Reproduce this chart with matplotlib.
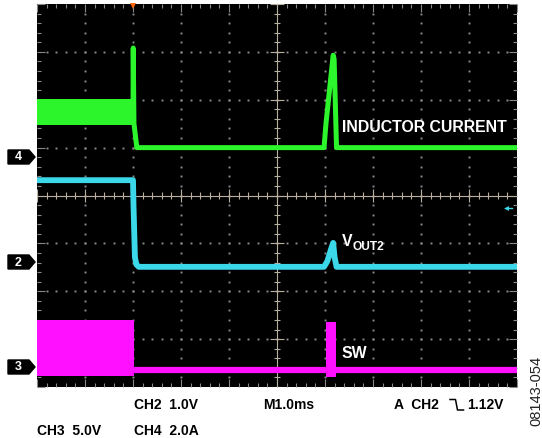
import numpy as np
import matplotlib.pyplot as plt
from matplotlib.patches import Polygon

plt.rcParams['font.family'] = ['Liberation Sans', 'DejaVu Sans']

W, H = 542, 438

# horizontal: 1.0 ms/div, trigger 2 div from the left
t_min, t_max = -2.0, 8.0

# channel scale (units/div) and ground marker position (div from bottom)
ch4_scale, ch4_gnd = 2.0, 4.80   # inductor current, A
ch2_scale, ch2_gnd = 1.0, 2.61   # VOUT2, V
ch3_scale, ch3_gnd = 5.0, 0.42   # SW, V

# CH4 inductor current (A): switching band before shutdown, then trace
il_band_t = [-2.0, 0.02]
il_band_lo = [1.34, 1.34]
il_band_hi = [2.42, 2.42]
il_t = [0.0, 0.005, 0.02, 0.08, 3.98, 4.02, 4.17, 4.19, 4.24, 8.0]
il_a = [1.6, 4.56, 1.4, 0.4, 0.4, 1.4, 4.26, 4.1, 0.4, 0.4]

# CH2 VOUT2 (V)
vo_t = [-2.0, 0.0, 0.01, 0.04, 0.07, 0.12, 3.98, 4.05, 4.12, 4.17, 4.2, 4.24, 8.0]
vo_v = [1.71, 1.71, 1.2, 0.1, -0.05, -0.1, -0.1, 0.02, 0.25, 0.40, 0.1, -0.1, -0.1]

# CH3 SW (V): switching band, idle level, single burst
sw_band_t = [-2.0, 0.02]
sw_band_lo = [-0.95, -0.95]
sw_band_hi = [4.9, 4.9]
sw_t = [0.02, 8.0]
sw_v = [-0.32, -0.32]
sw_burst_t = [4.02, 4.23]
sw_burst_lo = [-1.1, -1.1]
sw_burst_hi = [4.7, 4.7]

trig_level = 1.12  # V on CH2

green = '#2cf52c'
cyan = '#3ad8e8'
magenta = '#ff10ff'
grid_c = '#8a8a8a'
cross_c = '#b8b0a0'


def div(v, scale, gnd):
    return gnd + np.asarray(v, dtype=float) / scale


fig = plt.figure(figsize=(W / 100, H / 100), dpi=100)
ax = fig.add_axes([37 / W, (H - 387) / H, 480 / W, 383 / H])
ax.set_facecolor('black')
ax.set_xlim(t_min, t_max)
ax.set_ylim(0, 8)
for s in ax.spines.values():
    s.set_visible(False)

# graticule
ax.set_xticks(np.arange(t_min, t_max + 0.01, 1.0))
ax.set_xticks(np.arange(t_min, t_max + 0.01, 0.2), minor=True)
ax.set_yticks(np.arange(0, 8.01, 1.0))
ax.set_yticks(np.arange(0, 8.01, 0.2), minor=True)
ax.tick_params(which='both', direction='in', top=True, right=True,
               labelbottom=False, labelleft=False, color=grid_c, width=0.8)
ax.tick_params(which='major', length=6)
ax.tick_params(which='minor', length=3)

ydots = np.arange(0.2, 8.0, 0.2)
xdots = np.arange(t_min + 0.2, t_max, 0.2)
for xg in np.arange(t_min + 1, t_max, 1.0):
    if abs(xg - 3.0) > 1e-6:
        ax.plot([xg] * len(ydots), ydots, ls='none', marker='s', ms=1.4,
                mew=0, color=grid_c)
for yg in range(1, 8):
    if yg != 4:
        ax.plot(xdots, [yg] * len(xdots), ls='none', marker='s', ms=1.4,
                mew=0, color=grid_c)

ax.axhline(4, color=cross_c, lw=0.8)
ax.axvline(3, color=cross_c, lw=0.8)
xt = np.arange(t_min, t_max + 0.01, 0.2)
ax.vlines(xt, 4 - 0.07, 4 + 0.07, color=cross_c, lw=0.8)
ax.vlines(np.arange(t_min, t_max + 0.01, 1.0), 4 - 0.14, 4 + 0.14, color=cross_c, lw=0.8)
yt = np.arange(0, 8.01, 0.2)
ax.hlines(yt, 3 - 0.07, 3 + 0.07, color=cross_c, lw=0.8)
ax.hlines(np.arange(0, 8.01, 1.0), 3 - 0.14, 3 + 0.14, color=cross_c, lw=0.8)

# traces
ax.fill_between(il_band_t, div(il_band_lo, ch4_scale, ch4_gnd),
                div(il_band_hi, ch4_scale, ch4_gnd), color=green, lw=0, zorder=3)
ax.plot(il_t, div(il_a, ch4_scale, ch4_gnd), color=green, lw=3.6, zorder=3,
        solid_joinstyle='round')

ax.plot(vo_t, div(vo_v, ch2_scale, ch2_gnd), color=cyan, lw=4.2, zorder=3,
        solid_joinstyle='round')

ax.fill_between(sw_band_t, div(sw_band_lo, ch3_scale, ch3_gnd),
                div(sw_band_hi, ch3_scale, ch3_gnd), color=magenta, lw=0, zorder=3)
ax.plot(sw_t, div(sw_v, ch3_scale, ch3_gnd), color=magenta, lw=4.5, zorder=3)
ax.fill_between(sw_burst_t, div(sw_burst_lo, ch3_scale, ch3_gnd),
                div(sw_burst_hi, ch3_scale, ch3_gnd), color=magenta, lw=0, zorder=3)

# trigger position and level markers
ax.plot(0, 7.96, marker='v', ms=4, color='#ff6a10', mew=0, clip_on=False, zorder=5)
ty = div(trig_level, ch2_scale, ch2_gnd)
ax.plot([7.78, 7.9], [ty, ty], color=cyan, lw=1.0, zorder=5)
ax.plot(7.78, ty, marker='<', ms=3.5, color=cyan, mew=0, zorder=5)

# overlay in pixel coordinates for labels
ov = fig.add_axes([0, 0, 1, 1])
ov.set_xlim(0, W)
ov.set_ylim(H, 0)
ov.axis('off')
ov.patch.set_alpha(0)

for num, yc in [('4', 157), ('2', 262), ('3', 367)]:
    ov.add_patch(Polygon([(8, yc - 7), (29, yc - 7), (35, yc), (29, yc + 7), (8, yc + 7)],
                         closed=True, color='black'))
    ov.text(18.5, yc + 0.5, num, color='white', fontsize=9, fontweight='bold',
            ha='center', va='center')

lab = dict(color='white', fontweight='bold', va='center')
ov.text(342, 128, 'INDUCTOR CURRENT', fontsize=11.4, **lab)
ov.text(342, 241, 'V', fontsize=11.4, **lab)
ov.text(352.5, 247, 'OUT2', fontsize=8.6, **lab)
ov.text(342, 353, 'SW', fontsize=11.4, **lab)

bt = dict(color='black', fontweight='bold', fontsize=10, va='center')
ov.text(134, 405, 'CH2  1.0V', **bt)
ov.text(263, 405, 'M1.0ms', **bt)
ov.text(394, 405, 'A  CH2', **bt)
ov.plot([450, 455.5, 457.5, 463.5], [399.5, 399.5, 410, 410], color='black', lw=1.1)
ov.text(467, 405, '1.12V', **bt)
ov.text(37, 431, 'CH3  5.0V', **bt)
ov.text(134, 431, 'CH4  2.0A', **bt)
ov.text(536, 391, '08143-054', rotation=90, fontsize=10.5, color='#222222',
        ha='center', va='center')

fig.savefig('out.png', dpi=100, facecolor='white')
